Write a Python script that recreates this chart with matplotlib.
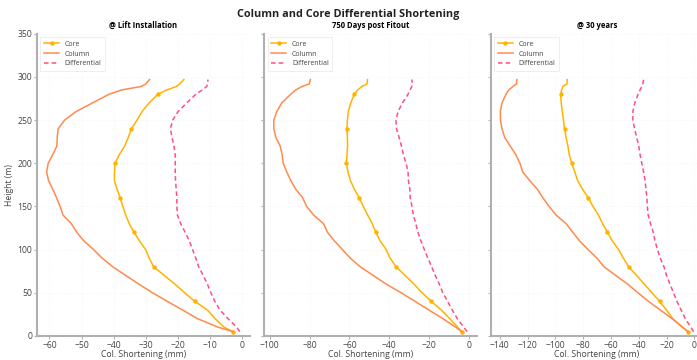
import matplotlib
matplotlib.use("Agg")
import matplotlib.pyplot as plt
from matplotlib.ticker import MultipleLocator

plt.rcParams['font.family'] = ['Open Sans', 'DejaVu Sans']

heights = [5, 10, 20, 30, 40, 50, 60, 70, 80, 90, 100, 110, 120, 130, 140, 150,
           160, 170, 180, 190, 200, 210, 220, 230, 240, 250, 260, 270, 280,
           285, 289, 292, 297]

# @ Lift Installation
core_lift = [-3, -5.7, -8.5, -10.9, -14.8, -18, -21, -24.3, -27.6, -29, -30.1,
             -32, -33.7, -35.2, -36.3, -37.2, -38, -39, -39.8, -39.8, -39.6,
             -38.3, -36.6, -35.5, -34.5, -32.8, -31.2, -29, -26.3, -23.5, -20.5,
             -19.5, -18.2]
col_lift = [-3, -7.5, -14, -18.6, -23.4, -28, -32.2, -36.3, -40.3, -43.6, -46.3,
            -49.3, -51.5, -53.2, -55.8, -56.7, -57.8, -59, -60.3, -60.9, -60.4,
            -59, -57.7, -57.6, -57.3, -55.3, -51.7, -46.6, -41.5, -37.5, -31.5,
            -30, -28.9]
diff_lift = [-0.8, -1.8, -4.5, -7, -8.6, -9.8, -10.9, -12.2, -13.6, -14.5, -15.5,
             -16.5, -17.8, -19.2, -20.2, -20.4, -20.4, -20.6, -20.8, -20.9, -20.9,
             -20.9, -21.3, -21.9, -22.4, -21.7, -20, -17.3, -14.5, -12.5, -11.1,
             -10.9, -10.7]

# 750 Days post Fitout
core_750 = [-3.5, -5.5, -9.5, -13.8, -18.8, -23.5, -27.5, -32, -36.5, -39.5,
            -41.5, -44.5, -46.7, -48.5, -50.8, -53, -55, -57.5, -59.5, -60.7,
            -61.5, -61.2, -60.9, -61, -61.2, -61, -60.5, -59.3, -57.5, -55.8,
            -53.7, -51.1, -50.9]
col_750 = [-3.5, -6.5, -13, -20, -27, -34, -41.5, -48, -54.5, -59.5, -63.5,
           -67.5, -71, -73, -78, -81.5, -83.5, -87, -89.5, -91.5, -93.3, -93.8,
           -94.8, -97, -98, -98, -96.5, -94, -89.5, -87, -83.8, -80.2, -79.6]
diff_750 = [-0.8, -2.5, -5.7, -8.3, -10.6, -13, -14.8, -16.8, -18.6, -20.5,
            -22.3, -24, -25.5, -26.6, -27.8, -28.5, -29.4, -29.6, -30.3, -30.5,
            -31.5, -32.8, -33.8, -35, -36.3, -36.6, -35.5, -33.3, -30.5, -29.5,
            -28.6, -28.3, -28.6]

# @ 30 years
core_30 = [-4.6, -8.5, -15.5, -20, -25, -30.5, -36, -41.5, -47.2, -51, -54.5,
           -59, -62.5, -66, -69, -73, -76.3, -80.5, -84, -86, -88.2, -90, -91,
           -92.3, -93.4, -94.2, -95, -95.8, -96.2, -95.5, -94.6, -91.6, -91.5]
col_30 = [-4.6, -8.5, -16, -24.5, -33, -40.6, -48, -56.5, -65, -70, -76.5,
          -82.5, -87.5, -92.2, -99.5, -104.5, -109, -113, -118.5, -123.5,
          -125.5, -128.5, -132.5, -136.5, -138.4, -139.5, -139.6, -138.4,
          -135.5, -133.5, -130.5, -128, -127.7]
diff_30 = [-0.5, -2.5, -6.5, -9.5, -12.5, -15, -17.5, -20, -21.8, -24.5, -26.5,
           -28.3, -29.5, -31.5, -33.2, -33.8, -34.1, -34.8, -35.4, -36.5, -37.8,
           -39, -40, -41.5, -43, -44.2, -44.2, -42.8, -40.5, -39, -37.8, -37,
           -36.6]

titles = ['@ Lift Installation', '750 Days post Fitout', '@ 30 years']
x_steps = [10, 20, 20]
panels = [(core_lift, col_lift, diff_lift),
          (core_750, col_750, diff_750),
          (core_30, col_30, diff_30)]

fig = plt.figure(figsize=(6.97, 3.6), dpi=100)
lefts = [0.053, 0.379, 0.704]
width = 0.305
bottom, height = 0.067, 0.839

spine_col = '#b0b0b0'
text_col = '#444444'

for i, (core, col, diff) in enumerate(panels):
    ax = fig.add_axes([lefts[i], bottom, width, height])
    ax.plot(core, heights, color='#FFB300', lw=1.1, marker='o', markersize=2.2,
            markevery=[0, 4, 8, 12, 16, 20, 24, 28], label='Core')
    ax.plot(col, heights, color='#FF8A4C', lw=1.1, label='Column')
    ax.plot(diff, heights, color='#FF4F7F', lw=1.1, ls=(0, (3, 2)),
            label='Differential')
    ax.set_ylim(0, 350)
    ax.margins(x=0.05)
    ax.xaxis.set_major_locator(MultipleLocator(x_steps[i]))
    ax.yaxis.set_major_locator(MultipleLocator(50))
    ax.grid(True, color='#eeeeee', lw=0.4, ls=':')
    for s in ['top', 'right']:
        ax.spines[s].set_visible(False)
    for s in ['left', 'bottom']:
        ax.spines[s].set_color(spine_col)
        ax.spines[s].set_linewidth(1.5)
    ax.tick_params(colors=spine_col, labelcolor=text_col, labelsize=6.2,
                   length=2, width=0.8, pad=1.5)
    ax.set_title(titles[i], fontsize=5.5, fontweight='bold', pad=4)
    ax.set_xlabel('Col. Shortening (mm)', fontsize=6.2, color=text_col,
                  labelpad=0)
    if i == 0:
        ax.set_ylabel('Height (m)', fontsize=6.2, color=text_col, labelpad=2)
    else:
        ax.tick_params(labelleft=False)
    leg = ax.legend(loc='upper left', fontsize=5, frameon=True, fancybox=False,
                    handlelength=2.2, borderpad=0.5, labelspacing=0.4)
    leg.get_frame().set_edgecolor('#e6e6e6')
    leg.get_frame().set_linewidth(0.6)
    for t in leg.get_texts():
        t.set_color(text_col)

fig.suptitle('Column and Core Differential Shortening', fontsize=7.8,
             fontweight='bold', y=0.975, color='#222222')

fig.savefig('out.png', dpi=100)
